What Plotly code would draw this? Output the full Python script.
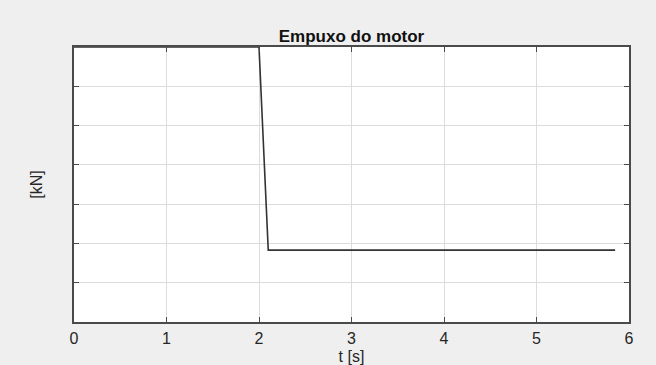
import plotly.graph_objects as go

t_vals = [0.0, 2.0, 2.1, 5.85]
thrust_vals = [7.0, 7.0, 1.83, 1.83]
x_ticks = [0, 1, 2, 3, 4, 5, 6]
y_ticks = [0, 1, 2, 3, 4, 5, 6, 7]

fig = go.Figure()
fig.add_trace(go.Scatter(x=t_vals, y=thrust_vals, mode="lines",
                         line=dict(color="#333333", width=1.6),
                         cliponaxis=False, showlegend=False))

axis_common = dict(showline=True, linecolor="#4a4a4a", linewidth=1.5, mirror="ticks",
                   ticks="inside", ticklen=5, tickcolor="#4a4a4a", tickwidth=1,
                   showgrid=True, gridcolor="#dcdcdc", gridwidth=1, zeroline=False,
                   automargin=False)

fig.update_layout(
    width=656, height=365,
    margin=dict(l=74, r=27, t=47, b=43),
    paper_bgcolor="#efefef", plot_bgcolor="#ffffff",
    font=dict(family="Liberation Sans, Arial, sans-serif", color="#262626", size=16),
    title=dict(text="<b>Empuxo do motor</b>", x=0.5, xanchor="center", xref="paper",
               y=1, yref="paper", yanchor="bottom", pad=dict(b=5),
               font=dict(size=17, color="#111111")),
    xaxis=dict(range=[0, 6], tickvals=x_ticks, ticktext=[str(v) for v in x_ticks],
               ticklabelstandoff=1,
               title=dict(text="t [s]", standoff=7, font=dict(size=16)), **axis_common),
    yaxis=dict(range=[0, 7], tickvals=y_ticks, showticklabels=False,
               title=dict(text="[kN]", standoff=26, font=dict(size=16)), **axis_common),
)

fig.write_html("out.html")
